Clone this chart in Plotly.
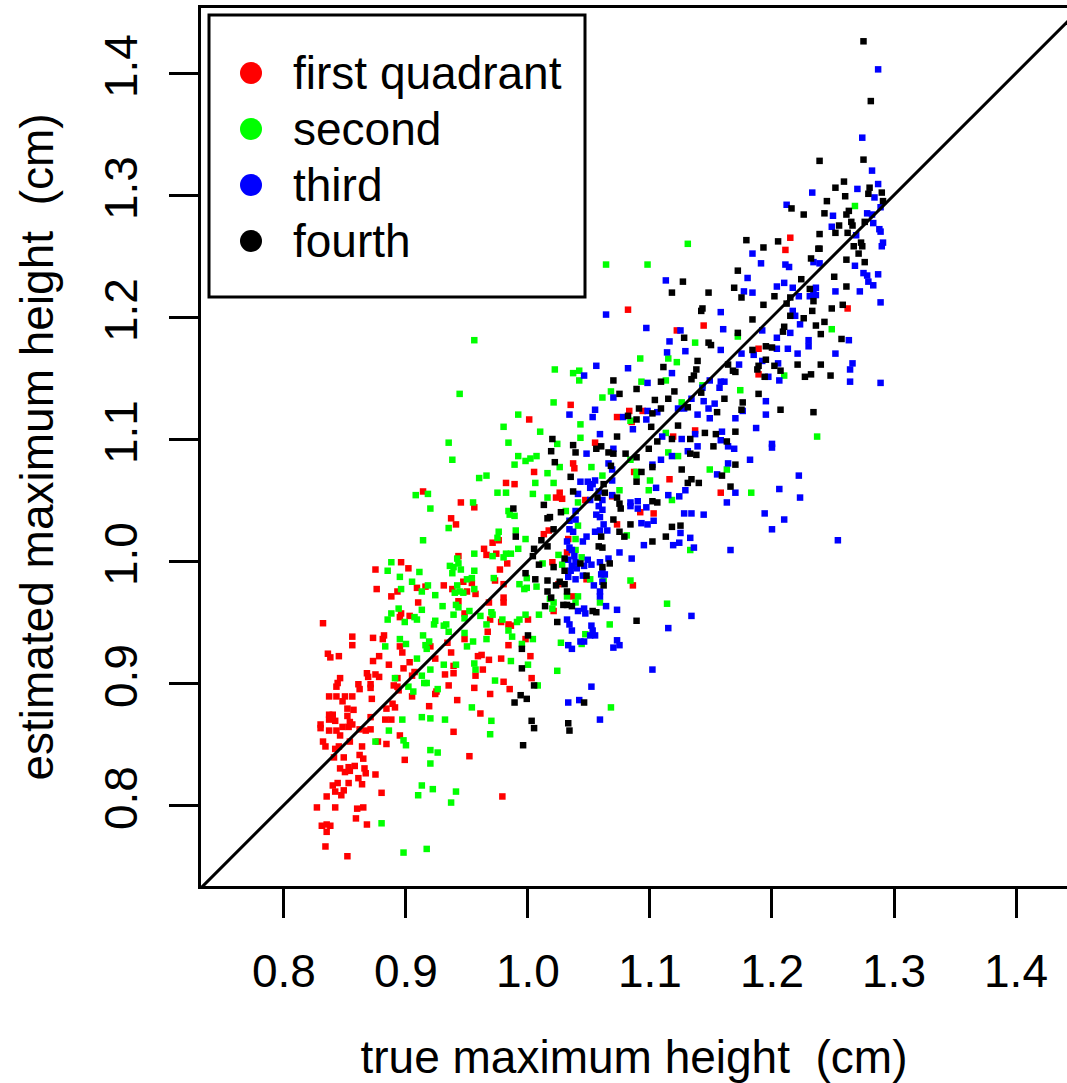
import plotly.graph_objects as go

# ---------------- data (true, estimated) ----------------
first_quadrant = [
    (0.914,1.057),(0.945,1.048),(0.956,1.044),(0.937,1.035),(0.941,1.030),(0.976,1.017),(0.971,1.015),(0.964,1.010),
    (0.974,1.006),(0.966,1.005),(0.943,1.004),(0.977,0.993),(0.896,0.999),(0.875,0.993),(0.902,0.994),(0.947,0.983),
    (0.954,0.982),(0.973,0.984),(0.980,0.981),(0.931,0.980),(0.938,0.977),(0.957,0.973),(0.950,0.975),(0.876,0.977),
    (0.893,0.975),(0.909,0.978),(0.916,0.979),(0.888,0.971),(0.910,0.966),(0.943,0.967),(0.980,0.970),(0.980,0.966),
    (0.968,0.966),(0.896,0.957),(0.895,0.954),(0.903,0.955),(0.948,0.957),(0.969,0.952),(0.978,0.950),(0.967,0.942),
    (0.948,0.936),(0.882,0.939),(0.881,0.936),(0.873,0.937),(0.856,0.938),(0.856,0.931),(0.895,0.930),(0.897,0.925),
    (0.920,0.930),(0.934,0.933),(0.937,0.925),(0.924,0.920),(0.878,0.922),(0.845,0.922),(0.836,0.924),(0.838,0.921),
    (0.832,0.949),(0.873,0.918),(0.886,0.915),(0.903,0.917),(0.898,0.912),(0.939,0.914),(0.959,0.922),(0.962,0.923),
    (0.968,0.919),(0.978,0.920),(0.963,0.911),(0.932,0.907),(0.939,0.908),(0.957,0.906),(0.907,0.909),(0.905,0.906),
    (0.868,0.908),(0.875,0.907),(0.878,0.905),(0.869,0.905),(0.846,0.904),(0.893,0.904),(0.982,1.064),
    (0.844,0.900),(0.843,0.897),(0.861,0.899),(0.862,0.895),(0.871,0.899),(0.871,0.896),(0.890,0.898),(0.893,0.897),
    (0.894,0.894),(0.905,0.889),(0.924,0.891),(0.925,0.893),(0.935,0.898),(0.956,0.896),(0.969,0.891),(0.980,0.901),
    (0.942,0.886),(0.837,0.889),(0.843,0.889),(0.850,0.889),(0.856,0.889),(0.848,0.885),(0.872,0.887),(0.889,0.883),
    (0.891,0.880),(0.884,0.879),(0.919,0.881),(0.961,0.875),(0.852,0.879),(0.857,0.878),(0.837,0.874),(0.840,0.874),
    (0.837,0.870),(0.842,0.869),(0.852,0.873),(0.854,0.868),(0.856,0.866),(0.853,0.864),(0.871,0.872),(0.883,0.870),
    (0.888,0.870),(0.830,0.866),(0.830,0.863),(0.837,0.861),(0.843,0.861),(0.848,0.864),(0.862,0.862),(0.867,0.861),
    (0.871,0.862),(0.939,0.860),(0.846,0.857),(0.895,0.857),(0.832,0.852),(0.854,0.852),(0.877,0.852),(0.834,0.848),
    (0.845,0.848),(0.864,0.848),(0.884,0.850),(0.842,0.846),(0.862,0.841),(0.841,0.839),(0.849,0.839),(0.865,0.838),
    (0.899,0.837),(0.952,0.840),(0.846,0.830),(0.850,0.827),(0.853,0.831),(0.858,0.832),(0.854,0.828),(0.866,0.830),
    (0.867,0.826),(0.875,0.825),(0.861,0.822),(0.840,0.816),(0.844,0.818),(0.853,0.818),(0.864,0.817),(0.849,0.812),
    (0.842,0.811),(0.847,0.808),(0.835,0.807),(0.880,0.810),(0.979,0.807),(0.827,0.798),(0.842,0.798),(0.860,0.797),
    (0.865,0.798),(0.859,0.789),(0.831,0.783),(0.835,0.784),(0.838,0.783),(0.835,0.778),(0.868,0.784),(0.834,0.766),
    (0.852,0.758),
    (1.082,1.206),(1.144,1.193),(1.122,1.189),(1.035,1.128),(1.083,1.123),(1.094,1.123),(1.073,1.118),(1.001,1.116),
    (1.085,1.114),(1.119,1.102),(1.137,1.107),
    (1.055,1.097),(1.037,1.080),(1.038,1.076),(1.005,1.073),(1.087,1.073),(1.116,1.067),(0.989,1.063),(1.026,1.056),
    (1.023,1.052),(1.028,1.051),(1.069,1.053),(1.047,1.050),(1.092,1.040),(1.103,1.039),(1.073,1.030),(1.017,1.025),
    (1.013,1.022),(1.033,1.018),(1.032,1.007),(1.020,0.999),(0.983,0.998),(1.025,0.981),(1.048,0.985),(1.086,0.980),
    (1.037,0.971),(1.021,0.959),(1.000,0.952),(0.984,0.948),(0.986,0.947),(0.998,0.936),(0.984,0.931),
    (1.002,0.922),(1.003,0.904),(0.985,0.895),
    (1.215,1.265),(1.211,1.255),(1.262,1.207),(1.189,1.174),(1.189,1.153),(1.158,1.056),
]

second = [
    (0.956,1.181),(0.944,1.137),(0.980,1.110),(0.935,1.097),(0.938,1.083),(0.960,1.068),(0.966,1.070),(0.908,1.054),
    (0.918,1.055),(0.975,1.056),(0.955,1.048),(0.920,1.043),(0.935,1.027),(0.976,1.024),(0.975,1.019),(0.914,1.017),
    (0.971,1.004),(0.980,1.003),(0.956,1.006),(0.942,1.002),(0.943,0.998),(0.936,0.996),(0.939,0.995),(0.945,0.993),
    (0.938,0.990),(0.956,0.992),(0.888,0.999),(0.885,0.992),(0.911,0.991),(0.895,0.987),(0.905,0.983),(0.950,0.985),
    (0.954,0.986),(0.972,0.986),(0.942,0.980),(0.956,0.977),(0.940,0.974),(0.944,0.975),(0.947,0.974),(0.896,0.977),
    (0.918,0.980),(0.913,0.975),(0.924,0.972),(0.943,0.962),(0.941,0.964),(0.930,0.963),(0.894,0.961),(0.913,0.960),
    (0.888,0.957),(0.885,0.952),(0.907,0.954),(0.909,0.952),(0.899,0.950),(0.924,0.951),(0.923,0.948),(0.931,0.947),
    (0.933,0.948),(0.939,0.956),(0.948,0.953),(0.952,0.959),(0.961,0.955),(0.970,0.958),(0.971,0.956),(0.979,0.952),
    (0.966,0.948),(0.935,0.942),(0.948,0.941),(0.966,0.936),(0.955,0.934),(0.950,0.930),(0.914,0.939),(0.919,0.934),
    (0.895,0.936),(0.883,0.930),(0.900,0.932),(0.916,0.931),(0.917,0.928),(0.909,0.920),(0.931,0.915),(0.941,0.915),
    (0.920,0.911),(0.956,0.916),(0.957,0.911),(0.913,0.906),(0.891,0.904),(0.973,0.902),
    (0.902,0.897),(0.906,0.893),(0.915,0.900),(0.917,0.900),(0.926,0.895),(0.954,0.880),(0.897,0.870),(0.913,0.872),
    (0.920,0.871),(0.932,0.870),(0.970,0.869),(0.886,0.861),(0.969,0.858),(0.875,0.852),(0.898,0.853),(0.900,0.849),
    (0.920,0.845),(0.926,0.843),(0.920,0.834),(0.913,0.816),(0.922,0.813),(0.910,0.808),(0.941,0.811),(0.937,0.802),
    (0.880,0.785),(0.898,0.761),(0.917,0.764),
    (1.131,1.260),(1.064,1.243),(1.098,1.243),(1.137,1.179),(1.092,1.166),(1.115,1.166),(1.122,1.163),(1.022,1.157),
    (1.037,1.154),(1.042,1.156),(1.042,1.148),(1.093,1.147),(1.113,1.148),(1.068,1.139),(1.143,1.144),(1.061,1.134),
    (1.021,1.130),(1.126,1.130),(0.992,1.120),(1.084,1.115),(1.043,1.112),(1.010,1.106),(1.113,1.105),(1.043,1.101),
    (0.984,1.097),(1.024,1.096),(1.084,1.083),(1.115,1.089),(1.123,1.086),(0.992,1.086),(0.998,1.082),(1.002,1.084),
    (1.007,1.086),(1.026,1.077),(1.052,1.077),(0.989,1.079),(1.016,1.072),(1.061,1.070),(1.089,1.073),(1.089,1.070),
    (1.006,1.064),(1.021,1.064),(1.100,1.066),(1.099,1.058),(1.004,1.055),(1.016,1.052),(0.982,1.056),(1.075,1.058),
    (1.041,1.048),(1.118,1.050),(0.984,1.041),(0.985,1.038),(0.989,1.037),(1.031,1.041),(0.990,1.025),(1.041,1.029),
    (1.081,1.021),(1.133,1.009),(0.998,1.018),(1.039,1.018),(1.039,1.009),(0.992,1.010),(0.986,1.006),(0.982,1.006),
    (1.044,1.003),(1.025,1.005),(1.012,0.998),(1.028,0.997),(0.999,0.986),(0.993,0.981),(0.999,0.978),(0.997,0.977),
    (1.007,0.979),(1.051,0.985),(1.062,0.984),(1.084,0.984),(1.018,0.969),(1.021,0.966),(1.032,0.971),(1.041,0.971),
    (1.059,0.966),(1.039,0.966),(1.020,0.961),(1.009,0.956),(0.998,0.956),(0.993,0.952),(0.991,0.950),(1.114,0.965),
    (1.067,0.948),(1.047,0.940),(1.027,0.933),(1.044,0.932),(0.984,0.943),(0.987,0.938),(1.004,0.936),(0.995,0.932),
    (0.986,0.918),(1.000,0.915),(1.024,0.910),(1.008,0.898),(1.068,0.880),
    (1.268,1.291),(1.249,1.190),(1.172,1.184),(1.210,1.152),(1.174,1.140),(1.237,1.102),(1.149,1.075),(1.163,1.075),
    (1.183,1.056),
]

third = [
    (1.113,1.230),(1.064,1.202),(1.097,1.191),(1.125,1.189),(1.116,1.180),(1.114,1.171),(1.129,1.172),(1.118,1.154),
    (1.056,1.160),(1.082,1.158),(1.046,1.152),(1.098,1.146),(1.070,1.134),(1.143,1.142),(1.134,1.133),(1.123,1.125),
    (1.128,1.125),(1.144,1.131),(1.055,1.124),(1.098,1.123),(1.106,1.122),(1.034,1.120),(1.053,1.118),(1.078,1.118),
    (1.139,1.120),(1.097,1.116),(1.086,1.108),(1.059,1.104),(1.137,1.104),(1.110,1.102),(1.126,1.100),
    (1.070,1.092),(1.048,1.088),(1.066,1.080),(1.069,1.075),(1.139,1.094),(1.131,1.090),(1.118,1.086),(1.109,1.083),
    (1.102,1.079),(1.043,1.065),(1.049,1.065),(1.053,1.063),(1.055,1.066),(1.051,1.060),(1.069,1.066),(1.105,1.060),
    (1.041,1.055),(1.058,1.057),(1.069,1.054),(1.061,1.050),(1.051,1.050),(1.115,1.054),(1.124,1.053),(1.129,1.058),
    (1.090,1.049),(1.084,1.045),(1.084,1.048),(1.090,1.043),(1.097,1.044),(1.128,1.039),(1.134,1.039),(1.144,1.038),
    (1.058,1.045),(1.061,1.042),(1.039,1.041),(1.039,1.034),(1.034,1.033),(1.056,1.038),(1.059,1.036),(1.062,1.030),
    (1.093,1.031),(1.098,1.030),(1.103,1.033),(1.125,1.023),(1.034,1.026),(1.037,1.024),(1.055,1.024),(1.059,1.025),
    (1.065,1.025),(1.048,1.020),(1.119,1.013),(1.124,1.015),(1.133,1.019),(1.136,1.011),(1.095,1.013),(1.032,1.016),
    (1.045,1.016),(1.034,1.011),(1.036,1.009),(1.075,1.007),(1.038,1.004),(1.049,1.001),(1.066,1.002),(1.085,1.002),
    (1.033,1.001),(1.036,0.996),(1.039,0.999),(1.046,0.996),(1.052,0.997),(1.059,0.999),(1.035,0.992),(1.040,0.994),
    (1.061,0.991),(1.060,0.989),(1.063,0.989),(1.033,0.987),(1.039,0.985),(1.045,0.988),(1.054,0.980),(1.061,0.983),
    (1.059,0.975),(1.059,0.971),(1.041,0.959),(1.046,0.961),(1.047,0.957),(1.064,0.963),(1.073,0.960),(1.134,0.955),
    (1.115,0.945),(1.032,0.952),(1.034,0.948),(1.036,0.943),(1.052,0.947),(1.053,0.943),(1.055,0.939),(1.051,0.939),
    (1.046,0.934),(1.043,0.934),(1.073,0.935),(1.075,0.931),(1.070,0.929),(1.033,0.931),(1.036,0.928),
    (1.033,0.884),(1.042,0.886),(1.052,0.897),(1.102,0.911),(1.059,0.870),
    (1.287,1.403),(1.274,1.347),(1.282,1.320),(1.287,1.309),(1.233,1.302),(1.270,1.305),(1.284,1.298),(1.212,1.292),
    (1.289,1.290),(1.250,1.283),(1.278,1.285),(1.282,1.284),
    (1.249,1.274),(1.269,1.267),(1.283,1.277),(1.288,1.272),(1.289,1.270),(1.291,1.261),(1.290,1.258),(1.268,1.242),
    (1.184,1.252),(1.191,1.244),(1.234,1.245),(1.239,1.244),(1.211,1.243),(1.214,1.241),(1.180,1.232),(1.275,1.236),
    (1.278,1.234),(1.287,1.235),(1.279,1.229),(1.283,1.226),(1.210,1.228),(1.204,1.225),(1.177,1.221),(1.184,1.220),
    (1.217,1.224),(1.222,1.217),(1.236,1.224),(1.234,1.221),(1.231,1.217),(1.236,1.218),(1.252,1.221),(1.272,1.221),
    (1.289,1.212),(1.158,1.204),(1.217,1.205),(1.219,1.201),(1.223,1.194),(1.160,1.190),(1.192,1.189),(1.215,1.187),
    (1.204,1.183),(1.230,1.181),(1.230,1.176),(1.263,1.181),(1.158,1.173),(1.204,1.174),(1.213,1.174),(1.175,1.170),
    (1.185,1.169),(1.221,1.170),(1.252,1.170),(1.192,1.164),(1.205,1.162),(1.173,1.161),(1.266,1.162),(1.264,1.157),
    (1.197,1.151),(1.206,1.148),(1.264,1.147),(1.289,1.146),(1.149,1.148),(1.158,1.147),(1.161,1.147),(1.157,1.142),
    (1.195,1.131),(1.153,1.129),
    (1.148,1.125),(1.149,1.117),(1.176,1.123),(1.195,1.120),(1.170,1.117),(1.187,1.109),(1.159,1.106),(1.158,1.099),
    (1.164,1.094),(1.169,1.092),(1.200,1.096),(1.200,1.093),(1.182,1.083),(1.164,1.080),(1.155,1.071),(1.222,1.070),
    (1.206,1.059),(1.170,1.056),(1.223,1.052),(1.163,1.048),(1.194,1.039),(1.210,1.034),(1.200,1.026),(1.254,1.017),
    (1.166,1.009),
]

fourth = [
    (1.127,1.229),(1.118,1.220),(1.143,1.207),(1.142,1.205),(1.128,1.183),(1.139,1.164),(1.111,1.159),(1.138,1.157),
    (1.136,1.152),(1.134,1.149),(1.070,1.148),(1.109,1.147),(1.089,1.141),(1.075,1.137),(1.120,1.139),(1.142,1.138),
    (1.104,1.132),(1.115,1.133),(1.131,1.126),(1.091,1.125),(1.109,1.125),(1.102,1.121),(1.082,1.119),(1.089,1.116),
    (1.101,1.110),(1.123,1.111),(1.145,1.105),(1.020,1.100),(1.073,1.102),(1.133,1.100),(1.118,1.100),
    (1.019,1.090),(1.037,1.095),(1.056,1.092),(1.060,1.094),(1.066,1.089),(1.070,1.088),(1.039,1.089),(1.080,1.088),
    (1.089,1.085),(1.099,1.092),(1.106,1.098),(1.133,1.088),(1.138,1.087),(1.102,1.077),(1.022,1.081),(1.068,1.078),
    (1.035,1.069),(1.093,1.073),(1.126,1.075),(1.134,1.067),(1.131,1.064),(1.140,1.064),(1.062,1.063),(1.089,1.065),
    (1.037,1.057),(1.063,1.056),(1.073,1.052),(1.057,1.052),(1.102,1.049),(1.106,1.048),(1.075,1.047),(1.076,1.043),
    (1.013,1.046),(0.988,1.043),(1.027,1.040),(1.016,1.035),(1.018,1.036),(1.070,1.034),(1.084,1.030),(1.125,1.029),
    (1.118,1.028),(1.021,1.026),(1.060,1.020),(1.075,1.024),(1.079,1.020),(1.102,1.016),(1.113,1.020),(1.011,1.017),
    (0.990,1.020),(1.016,1.012),(1.005,1.010),(1.058,1.012),(1.061,1.011),(1.004,1.004),(1.030,1.002),(1.021,0.995),
    (1.043,0.998),(1.061,0.995),(1.067,0.998),(1.009,0.997),(1.030,0.992),(0.998,0.990),(1.006,0.985),(1.016,0.984),
    (1.026,0.983),(1.023,0.980),(1.030,0.981),(1.032,0.975),(1.048,0.988),(1.062,0.980),(1.016,0.975),(1.019,0.970),
    (1.029,0.964),(1.032,0.964),(1.036,0.963),(1.014,0.963),(1.053,0.959),(1.056,0.958),(1.089,0.951),(1.024,0.950),
    (1.000,0.939),(0.995,0.928),
    (0.995,0.912),(1.005,0.898),(0.994,0.890),(0.999,0.887),(0.989,0.884),(1.046,0.884),(1.003,0.869),(1.005,0.863),
    (1.033,0.867),(1.034,0.861),(0.996,0.849),
    (1.275,1.426),(1.281,1.377),(1.239,1.328),(1.275,1.329),(1.259,1.311),(1.252,1.306),(1.280,1.306),(1.290,1.302),
    (1.279,1.301),(1.260,1.299),(1.245,1.295),(1.291,1.295),(1.216,1.289),(1.263,1.287),(1.226,1.284),(1.243,1.285),
    (1.261,1.284),
    (1.265,1.278),(1.255,1.275),(1.252,1.269),(1.239,1.268),(1.262,1.269),(1.266,1.275),(1.276,1.278),(1.273,1.261),
    (1.274,1.258),(1.267,1.258),(1.271,1.252),(1.276,1.245),(1.261,1.247),(1.179,1.263),(1.205,1.262),(1.193,1.257),
    (1.238,1.256),(1.239,1.256),(1.232,1.248),(1.172,1.238),(1.224,1.231),(1.251,1.233),(1.169,1.224),(1.148,1.220),
    (1.175,1.216),(1.202,1.217),(1.215,1.216),(1.231,1.223),(1.234,1.213),(1.261,1.225),(1.212,1.211),(1.193,1.210),
    (1.249,1.207),(1.258,1.210),(1.233,1.205),(1.215,1.201),(1.226,1.199),(1.184,1.198),(1.236,1.193),(1.243,1.196),
    (1.210,1.192),(1.209,1.188),(1.240,1.186),(1.172,1.187),(1.257,1.182),(1.148,1.179),(1.150,1.177),(1.195,1.176),
    (1.200,1.175),(1.184,1.173),(1.195,1.165),(1.164,1.161),(1.221,1.161),(1.240,1.161),(1.202,1.160),(1.189,1.160),
    (1.188,1.157),(1.168,1.156),(1.170,1.155),(1.207,1.156),(1.194,1.151),(1.232,1.153),(1.227,1.151),(1.248,1.152),
    (1.189,1.137),(1.161,1.133),(1.176,1.130),
    (1.155,1.122),(1.175,1.124),(1.207,1.124),(1.234,1.122),(1.154,1.104),(1.170,1.106),(1.163,1.098),(1.152,1.094),
    (1.170,1.079),(1.159,1.070),(1.166,1.061),
]

series_names = ["first quadrant", "second", "third", "fourth"]
series_colors = ["#FF0000", "#00FF00", "#0000FF", "#000000"]
series_points = [first_quadrant, second, third, fourth]

x_ticks = [0.8, 0.9, 1.0, 1.1, 1.2, 1.3, 1.4]
x_tick_labels = ["0.8", "0.9", "1.0", "1.1", "1.2", "1.3", "1.4"]
y_ticks = [0.8, 0.9, 1.0, 1.1, 1.2, 1.3, 1.4]
y_tick_labels = ["0.8", "0.9", "1.0", "1.1", "1.2", "1.3", "1.4"]

x_range = [0.7320, 1.4418]
y_range = [0.7336, 1.4533]
identity_line = [0.6, 1.6]

# ---------------- layout constants ----------------
W, H = 1067, 1083
ML, MR, MT, MB = 201, 0, 8, 197
PW, PH = W - ML - MR, H - MT - MB
FONT = "Liberation Sans, Arial, Helvetica, sans-serif"
LW = 3


def pxx(p):
    return (p - ML) / PW


def pxy(p):
    return 1 - (p - MT) / PH


fig = go.Figure()
for name, pts, col in zip(series_names, series_points, series_colors):
    fig.add_trace(go.Scatter(
        x=[p[0] for p in pts], y=[p[1] for p in pts], mode="markers", name=name,
        marker=dict(symbol="square", size=6.5, color=col, line=dict(width=0)),
        showlegend=False, hoverinfo="skip"))

fig.add_trace(go.Scatter(x=identity_line, y=identity_line, mode="lines",
                         line=dict(color="black", width=LW), showlegend=False, hoverinfo="skip"))

axis_common = dict(showgrid=False, zeroline=False, showline=True, linecolor="black", linewidth=LW,
                   ticks="outside", ticklen=29, tickwidth=LW, tickcolor="black",
                   tickfont=dict(family=FONT, size=46, color="black"))

fig.update_xaxes(range=x_range, tickvals=x_ticks, ticktext=x_tick_labels, mirror=True,
                 title=dict(text="true maximum height \u00a0(cm)", font=dict(family=FONT, size=46, color="black"),
                            standoff=46),
                 ticklabelstandoff=14, **axis_common)
fig.update_yaxes(range=y_range, tickvals=y_ticks, ticktext=y_tick_labels, tickangle=-90,
                 title=dict(text="estimated maximum height \u00a0(cm)", font=dict(family=FONT, size=46, color="black"),
                            standoff=27),
                 ticklabelstandoff=14, **axis_common)

# legend box drawn in the R style
shapes = [dict(type="rect", xref="paper", yref="paper", x0=pxx(209), x1=pxx(585), y0=pxy(297), y1=pxy(15),
               line=dict(color="black", width=LW), fillcolor="white", layer="above")]
annotations = []
for k, (name, col) in enumerate(zip(series_names, series_colors)):
    cy = 73 + 56 * k
    shapes.append(dict(type="circle", xref="paper", yref="paper", xsizemode="pixel", ysizemode="pixel",
                       xanchor=pxx(251), yanchor=pxy(cy), x0=-11, x1=11, y0=-11, y1=11,
                       fillcolor=col, line=dict(width=0), layer="above"))
    annotations.append(dict(xref="paper", yref="paper", x=pxx(291), y=pxy(cy), xanchor="left", yanchor="middle",
                            text=name, showarrow=False, font=dict(family=FONT, size=46, color="black")))

fig.update_layout(width=W, height=H, margin=dict(l=ML, r=MR, t=MT, b=MB, pad=0),
                  plot_bgcolor="white", paper_bgcolor="white", shapes=shapes, annotations=annotations,
                  font=dict(family=FONT, color="black"), showlegend=False)

fig.write_html("out.html")
